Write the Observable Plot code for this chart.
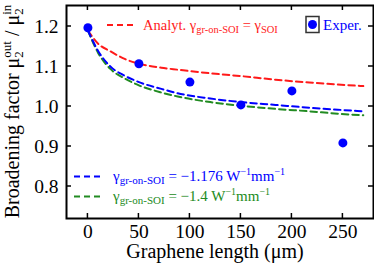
<!DOCTYPE html>
<html>
<head>
<meta charset="utf-8">
<script src="https://cdn.jsdelivr.net/npm/d3@7"></script>
<script src="https://cdn.jsdelivr.net/npm/@observablehq/plot@0.6"></script>
<style>
  body { margin: 0; background: #fff; }
</style>
</head>
<body>
<div id="chart"></div>
<script>
// ---- data ----
const expX = [0, 50, 100, 150, 200, 250];
const expY = [1.197, 1.107, 1.061, 1.004, 1.039, 0.909];

const curveX   = [0,    10,    22,    36,    50,    72,    88,    120,   150,   184,   217,   245,   270];
const analytY  = [1.19, 1.157, 1.138, 1.119, 1.107, 1.097, 1.092, 1.083, 1.076, 1.067, 1.060, 1.055, 1.051];
const fitAY    = [1.19, 1.139, 1.100, 1.077, 1.061, 1.044, 1.033, 1.020, 1.011, 1.004, 0.997, 0.992, 0.988];
const fitBY    = [1.19, 1.134, 1.094, 1.070, 1.053, 1.035, 1.025, 1.011, 1.002, 0.994, 0.988, 0.982, 0.978];

const xTicks = [0, 50, 100, 150, 200, 250];
const yTicks = [0.8, 0.9, 1.0, 1.1, 1.2];

const xLabel = "Graphene length (μm)";

// ---- styling ----
const font = '"Liberation Serif", "Times New Roman", Times, serif';
const RED = "#ff1a1a", BLUE = "#0000ff", GREEN = "#228b22";
const W = 374, H = 267;
const mL = 66, mR = 1, mT = 5, mB = 49;

const pts = (xs, ys) => xs.map((x, i) => ({x, y: ys[i]}));

const plot = Plot.plot({
  width: W, height: H,
  marginLeft: mL, marginRight: mR, marginTop: mT, marginBottom: mB,
  style: {fontFamily: font, fontSize: "19.5px", background: "#fff", color: "#000"},
  x: {domain: [-21, 280]},
  y: {domain: [0.72, 1.2525]},
  marks: [
    Plot.line(pts(curveX, analytY), {x: "x", y: "y", stroke: RED, strokeWidth: 2, strokeDasharray: "6.5,4", curve: "monotone-x"}),
    Plot.line(pts(curveX, fitBY), {x: "x", y: "y", stroke: GREEN, strokeWidth: 2, strokeDasharray: "6.5,4", curve: "monotone-x"}),
    Plot.line(pts(curveX, fitAY), {x: "x", y: "y", stroke: BLUE, strokeWidth: 2, strokeDasharray: "6.5,4", curve: "monotone-x"}),
    Plot.dot(pts(expX, expY), {x: "x", y: "y", r: 4.5, fill: BLUE, stroke: null}),
    Plot.axisX(xTicks, {anchor: "bottom", tickSize: 0, tickPadding: 6, label: null}),
    Plot.axisY(yTicks, {anchor: "left", tickSize: 0, tickPadding: 8, tickFormat: d3.format(".1f"), label: null}),
    Plot.frame({stroke: "#000", strokeWidth: 2})
  ]
});

const svg = d3.select(plot);
const sx = plot.scale("x"), sy = plot.scale("y");
const x0 = mL, x1 = W - mR, y0 = mT, y1 = H - mB;
const TL = 5;

// inward ticks on all four sides, positioned through the plot's scales
const tg = svg.append("g").attr("stroke", "#000").attr("stroke-width", 1.5);
for (const v of xTicks) {
  const px = sx.apply(v);
  tg.append("line").attr("x1", px).attr("x2", px).attr("y1", y1).attr("y2", y1 - TL);
  tg.append("line").attr("x1", px).attr("x2", px).attr("y1", y0).attr("y2", y0 + TL);
}
for (const v of yTicks) {
  const py = sy.apply(v);
  tg.append("line").attr("y1", py).attr("y2", py).attr("x1", x0).attr("x2", x0 + TL);
  tg.append("line").attr("y1", py).attr("y2", py).attr("x1", x1).attr("x2", x1 - TL);
}

// y-axis label
const yl = svg.append("text")
  .attr("transform", `translate(18.5,${(mT + H - mB) / 2}) rotate(-90)`)
  .attr("text-anchor", "middle")
  .attr("fill", "#000")
  .style("font-family", font).style("font-size", "20px");
yl.append("tspan").text("Broadening factor μ");
yl.append("tspan").attr("font-size", "13px").attr("dy", 4).text("2");
yl.append("tspan").attr("font-size", "13px").attr("dx", -6.5).attr("dy", -12).text("out");
yl.append("tspan").attr("dy", 8).text(" / μ");
yl.append("tspan").attr("font-size", "13px").attr("dy", 4).text("2");
yl.append("tspan").attr("font-size", "13px").attr("dx", -6.5).attr("dy", -12).text("in");

// x-axis label
svg.append("text")
  .attr("x", 215).attr("y", 258)
  .attr("text-anchor", "middle")
  .attr("fill", "#000")
  .style("font-family", font).style("font-size", "20px")
  .text(xLabel);

// legend helpers
function legendLine(x, y, color) {
  svg.append("line")
    .attr("x1", x).attr("x2", x + 26).attr("y1", y).attr("y2", y)
    .attr("stroke", color).attr("stroke-width", 2).attr("stroke-dasharray", "6,4");
}
function gammaSub(t, size) {
  t.append("tspan").text("γ");
  t.append("tspan").attr("font-size", size + "px").attr("dy", 3).text("gr-on-SOI");
}

// Analytical legend (top)
legendLine(107, 25, RED);
{
  const t = svg.append("text").attr("x", 143).attr("y", 29.5).attr("fill", RED)
    .attr("text-anchor", "start")
    .style("font-family", font).style("font-size", "14.5px");
  t.append("tspan").text("Analyt. ");
  gammaSub(t, 10.5);
  t.append("tspan").attr("dy", -3).text(" = γ");
  t.append("tspan").attr("font-size", "10.5px").attr("dy", 3).text("SOI");
}

// Experimental legend (top right)
svg.append("rect").attr("x", 306).attr("y", 16.5).attr("width", 13).attr("height", 16)
  .attr("fill", "#fff").attr("stroke", "#333").attr("stroke-width", 1.5);
svg.append("circle").attr("cx", 312.5).attr("cy", 24.5).attr("r", 4.5).attr("fill", BLUE);
svg.append("text").attr("x", 323).attr("y", 29.5).attr("fill", BLUE)
  .attr("text-anchor", "start")
  .style("font-family", font).style("font-size", "15px").text("Exper.");

// Fit legends (bottom)
function fitLegend(y, color, value) {
  legendLine(74, y, color);
  const t = svg.append("text").attr("x", 113).attr("y", y + 4).attr("fill", color)
    .attr("text-anchor", "start")
    .style("font-family", font).style("font-size", "15px");
  gammaSub(t, 11);
  t.append("tspan").attr("dy", -3).text(" = −" + value + " W");
  t.append("tspan").attr("font-size", "10px").attr("dy", -6).text("−1");
  t.append("tspan").attr("dy", 6).text("mm");
  t.append("tspan").attr("font-size", "10px").attr("dy", -6).text("−1");
}
fitLegend(176.5, BLUE, "1.176");
fitLegend(196.5, GREEN, "1.4");

document.getElementById("chart").appendChild(plot);
</script>
</body>
</html>
